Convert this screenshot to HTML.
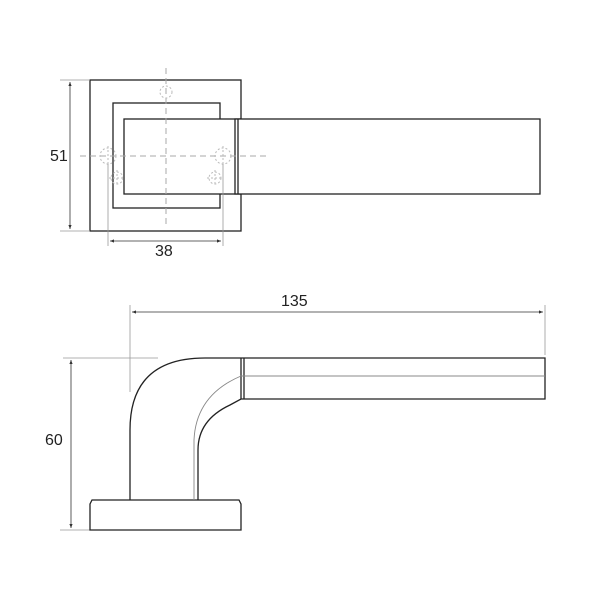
<!DOCTYPE html>
<html><head><style>body{margin:0;background:#fff}svg{display:block}text{font-family:"Liberation Sans",sans-serif;font-size:16px;fill:#222}</style></head><body>
<svg width="600" height="600" viewBox="0 0 600 600" xmlns="http://www.w3.org/2000/svg">
<defs><marker id="a" markerWidth="6" markerHeight="6" refX="5" refY="3" orient="auto-start-reverse"><path d="M0,1 L5,3 L0,5Z" fill="#333"/></marker></defs>
<g fill="none" stroke="#222" stroke-width="1.3">
<rect x="90" y="80" width="151" height="151"/>
<rect x="113" y="103" width="107" height="105"/>
<rect x="124" y="119" width="116" height="75" fill="#fff"/>
<rect x="235" y="119" width="305" height="75" fill="#fff"/>
<line x1="238" y1="119" x2="238" y2="194"/>
</g>
<g stroke="#aaa" stroke-width="1" fill="none" stroke-dasharray="6,4">
<line x1="80" y1="156" x2="267" y2="156"/>
<line x1="166" y1="68" x2="166" y2="225"/>
</g>
<g stroke="#bbb" stroke-width="1" fill="none" stroke-dasharray="2,2">
<circle cx="166" cy="92" r="6"/><circle cx="108" cy="156" r="8"/><circle cx="223" cy="156" r="8"/>
<circle cx="117" cy="178" r="6"/><circle cx="215" cy="178" r="6"/>
<path d="M117,170 V186 M109,178 H125 M215,170 V186 M207,178 H223 M108,146 V166 M223,146 V166"/>
</g>
<g stroke="#999" stroke-width="0.8" fill="none">
<line x1="60" y1="80" x2="90" y2="80"/><line x1="60" y1="231" x2="90" y2="231"/>
<line x1="70" y1="82" x2="70" y2="229" stroke="#333" marker-start="url(#a)" marker-end="url(#a)"/>
<line x1="108" y1="164" x2="108" y2="246"/><line x1="223" y1="164" x2="223" y2="246"/>
<line x1="110" y1="241" x2="221" y2="241" stroke="#333" marker-start="url(#a)" marker-end="url(#a)"/>
<line x1="130" y1="305" x2="130" y2="392"/><line x1="545" y1="305" x2="545" y2="355"/>
<line x1="132" y1="312" x2="543" y2="312" stroke="#333" marker-start="url(#a)" marker-end="url(#a)"/>
<line x1="63" y1="358" x2="158" y2="358"/><line x1="60" y1="530" x2="90" y2="530"/>
<line x1="71" y1="360" x2="71" y2="528" stroke="#333" marker-start="url(#a)" marker-end="url(#a)"/>
</g>
<text x="50" y="161">51</text><text x="155" y="256">38</text>
<text x="281" y="306">135</text><text x="45" y="445">60</text>
<g fill="none" stroke="#222" stroke-width="1.3">
<path d="M130,500 L130,430 Q130,358 205,358 L545,358 L545,399 L241,399 L230,405 Q198,420 198,450 L198,500"/>
<line x1="241" y1="358" x2="241" y2="399"/><line x1="244" y1="358" x2="244" y2="399"/>
<path d="M92,500 L239,500 L241,504 L241,530 L90,530 L90,504Z" fill="#fff"/>
</g>
<path d="M194,500 L194,440 Q196,395 241,376 L545,376" fill="none" stroke="#888" stroke-width="0.9"/>
</svg>
</body></html>
